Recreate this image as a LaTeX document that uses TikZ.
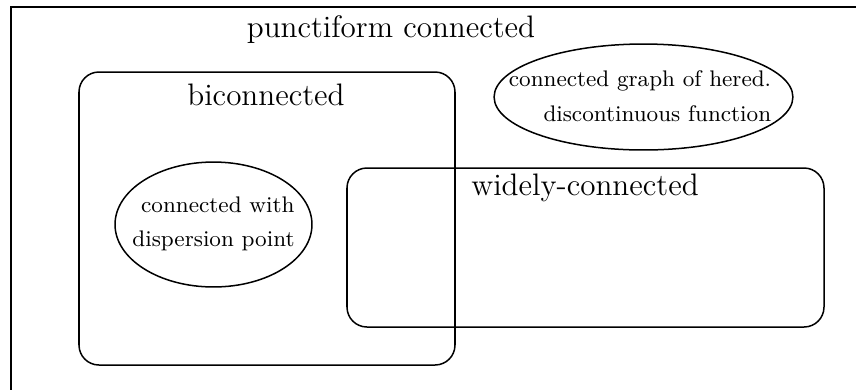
\documentclass[tikz,border=0pt]{standalone}
\usetikzlibrary{shapes.geometric}
\tikzset{
  region/.style={rounded corners=0.28cm, semithick},
  setname/.style={font=\fontsize{12.4}{15}\selectfont, inner sep=0pt},
  subset/.style={ellipse, draw, semithick, inner sep=0pt},
  subtext/.style={align=right, font=\small, inner sep=0pt},
}
\begin{document}
\begin{tikzpicture}[x=0.014019cm, y=-0.014019cm]
\useasboundingbox (0,0) rectangle (856,389);

%%% ensembles

% punctiform
\draw[semithick] (11,7) rectangle (900,430);
\node[setname] (punct) at (391,30) {punctiform connected};

% biconnected
\draw[region] (79,72) rectangle (455,365);
\node[setname] (bicon) at (266,95) {biconnected};

% widely-connected
\draw[region] (347,168) rectangle (824,327);
\node[setname] (widely) at (585,188) {widely-connected};

% dispersion point
\node[subset, minimum width=2.762cm, minimum height=1.752cm] (disp) at (213.5,224.5) {};
\node[subtext] (disptext) at (213.5,224) {connected with\\[2.8pt]dispersion point};

% hered. discontinuous
\node[subset, minimum width=4.19cm, minimum height=1.486cm] (hered) at (643.5,97) {};
\node[subtext] (heredtext) at (640,96) {connected graph of hered.\\[2.8pt]discontinuous function};
\end{tikzpicture}
\end{document}
